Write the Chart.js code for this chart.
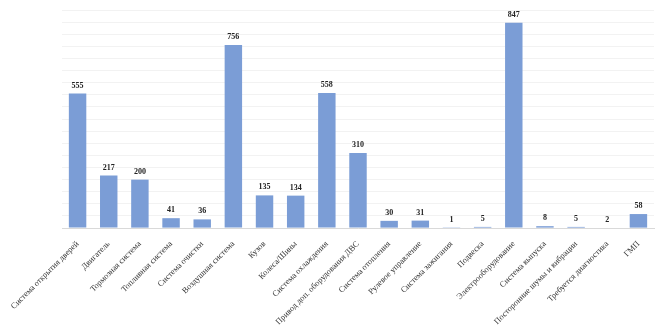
<!DOCTYPE html>
<html lang="ru">
<head>
  <meta charset="UTF-8">
  <title>Неисправности по системам</title>
  <script src="https://cdn.jsdelivr.net/npm/chart.js"></script>
  <style>
    body{margin:0;background:#fff;}
    #c{display:block;}
  </style>
</head>
<body>
  <canvas id="c" width="655" height="333"></canvas>
  <script>
    const categories = [
      'Система открытия дверей','Двигатель','Тормозная система','Топливная система',
      'Система очистки','Воздушная система','Кузов','Колеса/Шины','Система охлаждения',
      'Привод доп. оборудования ДВС','Система отопления','Рулевое управление',
      'Система зажигания','Подвеска','Электрооборудование','Система выпуска',
      'Посторонние шумы и вибрации','Требуется диагностика','ГМП'
    ];
    const counts = [555,217,200,41,36,756,135,134,558,310,30,31,1,5,847,8,5,2,58];
    const yMax = 900, yStep = 50;

    // value labels above each bar
    const valueLabels = {
      id:'valueLabels',
      afterDatasetsDraw(chart){
        const ctx=chart.ctx;
        const meta=chart.getDatasetMeta(0);
        ctx.save();
        ctx.font='bold 8px "Liberation Serif"';
        ctx.fillStyle='#222';
        ctx.textAlign='center';
        ctx.textBaseline='bottom';
        meta.data.forEach((bar,i)=>{
          ctx.fillText(counts[i], bar.x, bar.y-4);
        });
        ctx.restore();
      }
    };

    new Chart(document.getElementById('c'),{
      type:'bar',
      data:{labels:categories,datasets:[{
        data:counts,backgroundColor:'#7b9dd6',
        categoryPercentage:1,barPercentage:0.56
      }]},
      options:{
        responsive:false,animation:false,
        layout:{padding:{left:0,right:1,top:10,bottom:3}},
        plugins:{legend:{display:false},tooltip:{enabled:false}},
        scales:{
          x:{
            grid:{display:false},
            border:{color:'#d9d9d9',width:1},
            ticks:{
              autoSkip:false,minRotation:45,maxRotation:45,
              color:'#333',font:{family:'"Liberation Serif"',size:8.4},padding:3
            }
          },
          y:{
            min:0,max:yMax,
            afterFit(s){ s.width=62; },
            ticks:{display:false,stepSize:yStep},
            grid:{color:'#f2f2f2',drawTicks:false},
            border:{display:false}
          }
        }
      },
      plugins:[valueLabels]
    });
  </script>
</body>
</html>
